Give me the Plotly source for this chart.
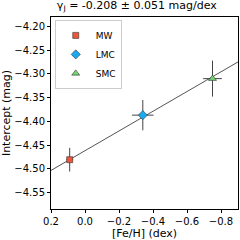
import plotly.graph_objects as go
import numpy as np

names = ["MW", "LMC", "SMC"]
feh = [0.09, -0.34, -0.75]
feh_err = [0.02, 0.063, 0.055]
intercept = [-4.481, -4.387, -4.31]
intercept_err = [0.025, 0.032, 0.038]
colors = ["#f0553a", "#1aaaf0", "#74d474"]
symbols = ["square", "diamond", "triangle-up"]

fit_slope = -0.208
fit_zero = -4.462
x_range = [0.2, -0.9]
y_range = [-4.585, -4.18]

fig = go.Figure()
xs = np.array(x_range)
fig.add_trace(go.Scatter(x=xs, y=fit_zero + fit_slope * xs, mode="lines",
                         line=dict(color="#555555", width=1), showlegend=False,
                         hoverinfo="skip"))
for i in range(3):
    fig.add_trace(go.Scatter(
        x=[feh[i]], y=[intercept[i]], mode="markers", name=names[i],
        marker=dict(symbol=symbols[i], color=colors[i], size=7 if i else 6,
                    line=dict(color="#333333", width=0.6)),
        error_x=dict(type="data", array=[feh_err[i]], color="#444444", thickness=1, width=0),
        error_y=dict(type="data", array=[intercept_err[i]], color="#444444", thickness=1, width=0),
    ))

axis_common = dict(showline=True, linecolor="black", linewidth=1, mirror=True,
                   ticks="outside", ticklen=3, tickcolor="black", showgrid=False,
                   zeroline=False, tickfont=dict(size=10, color="black"), automargin=False)
fig.update_layout(
    width=240, height=240,
    margin=dict(l=51, r=2, t=17, b=31),
    paper_bgcolor="white", plot_bgcolor="white",
    font=dict(family="DejaVu Sans", color="black"),
    title=dict(text="γ<sub>J</sub> = -0.208 ± 0.051 mag/dex", x=0.6, xanchor="center",
               y=0.995, yanchor="top", font=dict(size=11), automargin=False),
    xaxis=dict(range=x_range, tickvals=[0.2, 0.0, -0.2, -0.4, -0.6, -0.8],
               ticktext=["0.2", "0.0", "−0.2", "−0.4", "−0.6", "−0.8"],
               title=dict(text="[Fe/H] (dex)", font=dict(size=11), standoff=2), **axis_common),
    yaxis=dict(range=y_range, tickvals=[-4.20, -4.25, -4.30, -4.35, -4.40, -4.45, -4.50, -4.55],
               ticktext=["−4.20", "−4.25", "−4.30", "−4.35", "−4.40", "−4.45", "−4.50", "−4.55"],
               title=dict(text="Intercept (mag)", font=dict(size=11), standoff=2), **axis_common),
    legend=dict(x=0.02, y=0.985, xanchor="left", yanchor="top", bgcolor="white",
                bordercolor="#cccccc", borderwidth=1, font=dict(size=9),
                itemwidth=30, tracegroupgap=0),
)
fig.update_layout(title_x=0.57)
fig.write_html("out.html", config={"displayModeBar": False},
               post_script="document.body.style.margin='0';document.body.style.overflow='hidden';")
